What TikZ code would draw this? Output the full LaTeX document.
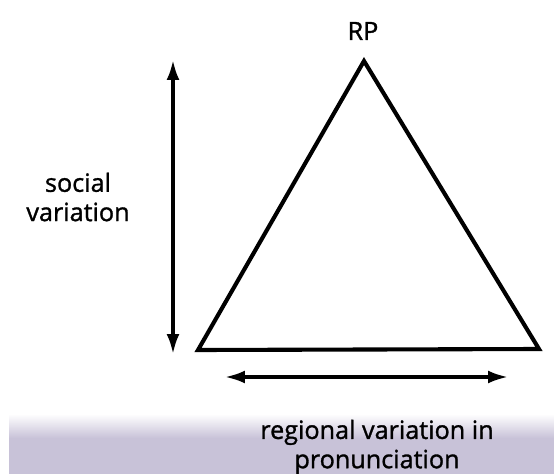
\documentclass[tikz,border=0pt]{standalone}
\usepackage{fontspec}
\setmainfont{Open Sans}
\newfontfamily\lblfont[FakeBold=1.2]{Open Sans}
\usepackage{tikz}
\usetikzlibrary{arrows.meta}

\definecolor{scangray}{RGB}{200,194,216}

\begin{document}
\begin{tikzpicture}[x=0.03cm, y=-0.03cm, line width=3.5pt,
    lbl/.style = {font=\lblfont\fontsize{21.5}{25}\selectfont, align=center, inner sep=0pt},
    dbl/.style = {{Latex[length=17pt,width=11pt]}-{Latex[length=17pt,width=11pt]}, line width=2.8pt}]
    \useasboundingbox (0,0) rectangle (554,474);
    % band at the bottom of the scan
    \shade[top color=white, bottom color=scangray, draw=none] (9,414) rectangle (554,438);
    \fill[scangray] (9,437.5) rectangle (554,474);

    \coordinate (apex) at (364,61);
    \coordinate (bl) at (198,350);
    \coordinate (br) at (539,349);
    \draw[line join=miter] (apex) -- (bl) -- (br) -- cycle;

    \node[lbl] (rp) at (363,31) {RP};
    \node[lbl] (social) at (78,197) {social\\variation};
    \node[lbl] (regional) at (377,447) {regional variation in\\pronunciation};

    \coordinate (s_top) at (173,60);
    \coordinate (s_bot) at (173,354);
    \draw[dbl] (s_top) -- (s_bot);

    \coordinate (r_left) at (225,377);
    \coordinate (r_right) at (508,377);
    \draw[dbl] (r_left) -- (r_right);
\end{tikzpicture}
\end{document}
